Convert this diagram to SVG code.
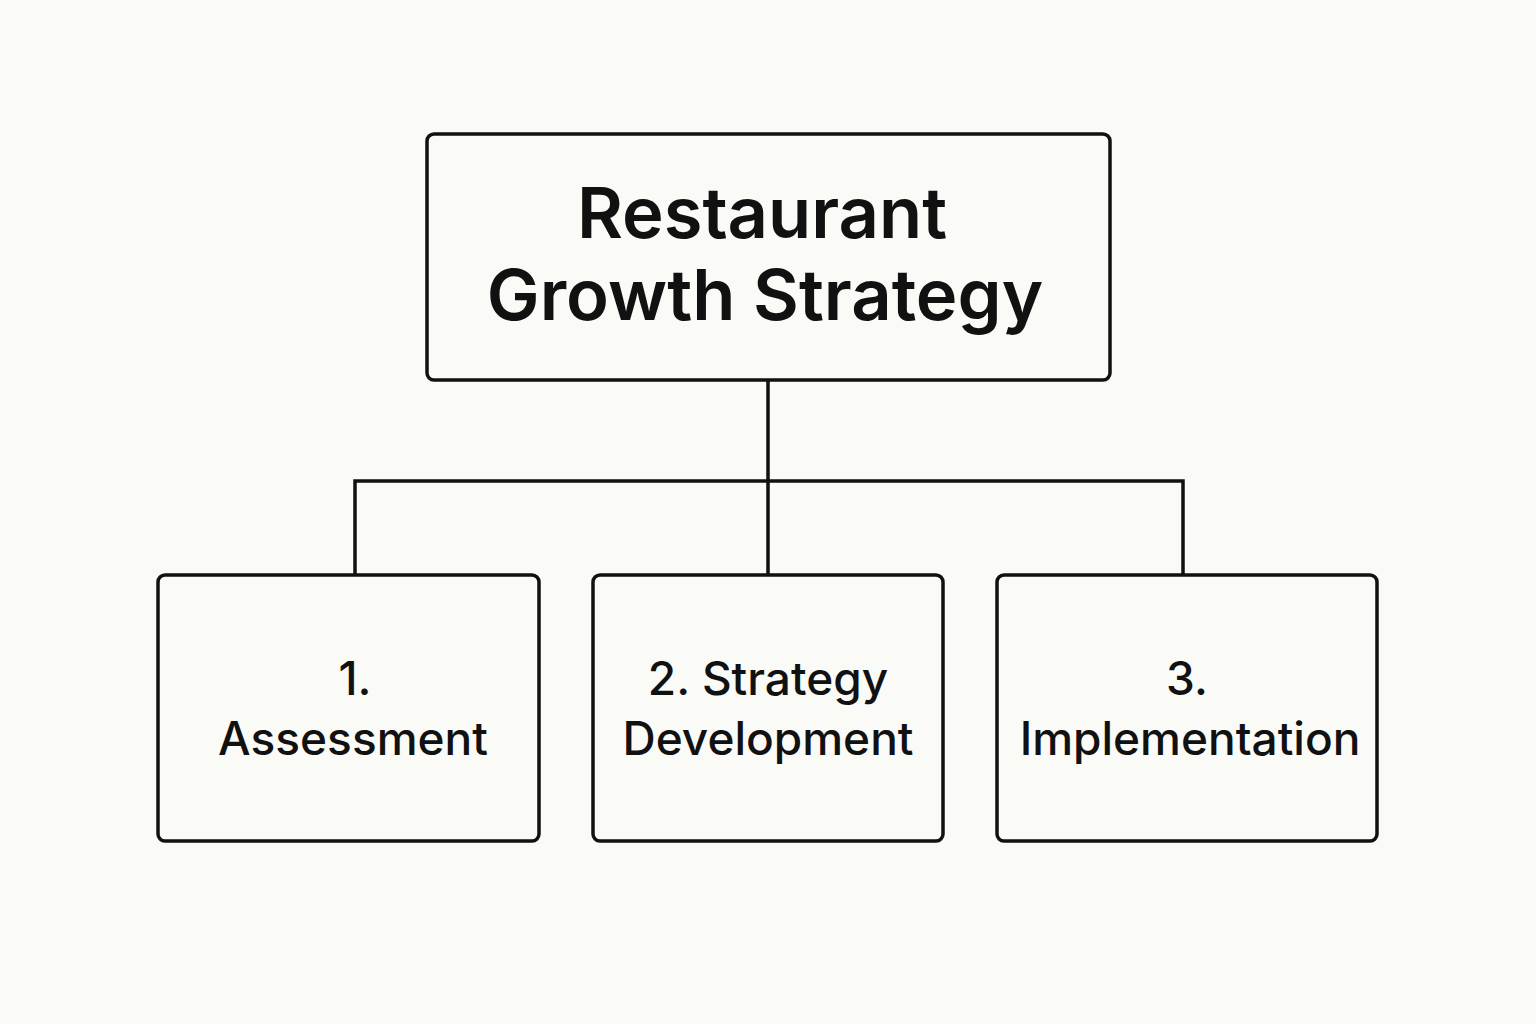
<svg xmlns="http://www.w3.org/2000/svg" width="1536" height="1024" viewBox="0 0 1536 1024">
<style>
.box{fill:#fafaf7;stroke:#111;stroke-width:3.5}
.conn{fill:none;stroke:#111;stroke-width:3.5}
.t{font-family:Inter,"Liberation Sans",sans-serif;fill:#111;text-anchor:middle}
.title{font-size:70.5px;font-weight:600}
.lbl{font-size:46px;font-weight:500}
</style>
<rect width="1536" height="1024" fill="#fafaf7"/>
<g id="connectors">
<path class="conn" d="M768 380V575M355 575V481H1183V575"/>
</g>
<g id="root">
<rect class="box" x="427" y="134" width="683" height="246" rx="7"/>
<text class="t title" x="762" y="238">Restaurant</text>
<text class="t title" x="765" y="320">Growth Strategy</text>
</g>
<g id="n1">
<rect class="box" x="158" y="575" width="381" height="266" rx="7"/>
<text class="t lbl" x="355" y="695">1.</text>
<text class="t lbl" x="353" y="755">Assessment</text>
</g>
<g id="n2">
<rect class="box" x="593" y="575" width="350" height="266" rx="7"/>
<text class="t lbl" x="768" y="695">2. Strategy</text>
<text class="t lbl" x="768" y="755">Development</text>
</g>
<g id="n3">
<rect class="box" x="997" y="575" width="380" height="266" rx="7"/>
<text class="t lbl" x="1187" y="695">3.</text>
<text class="t lbl" x="1190" y="755">Implementation</text>
</g>
</svg>
